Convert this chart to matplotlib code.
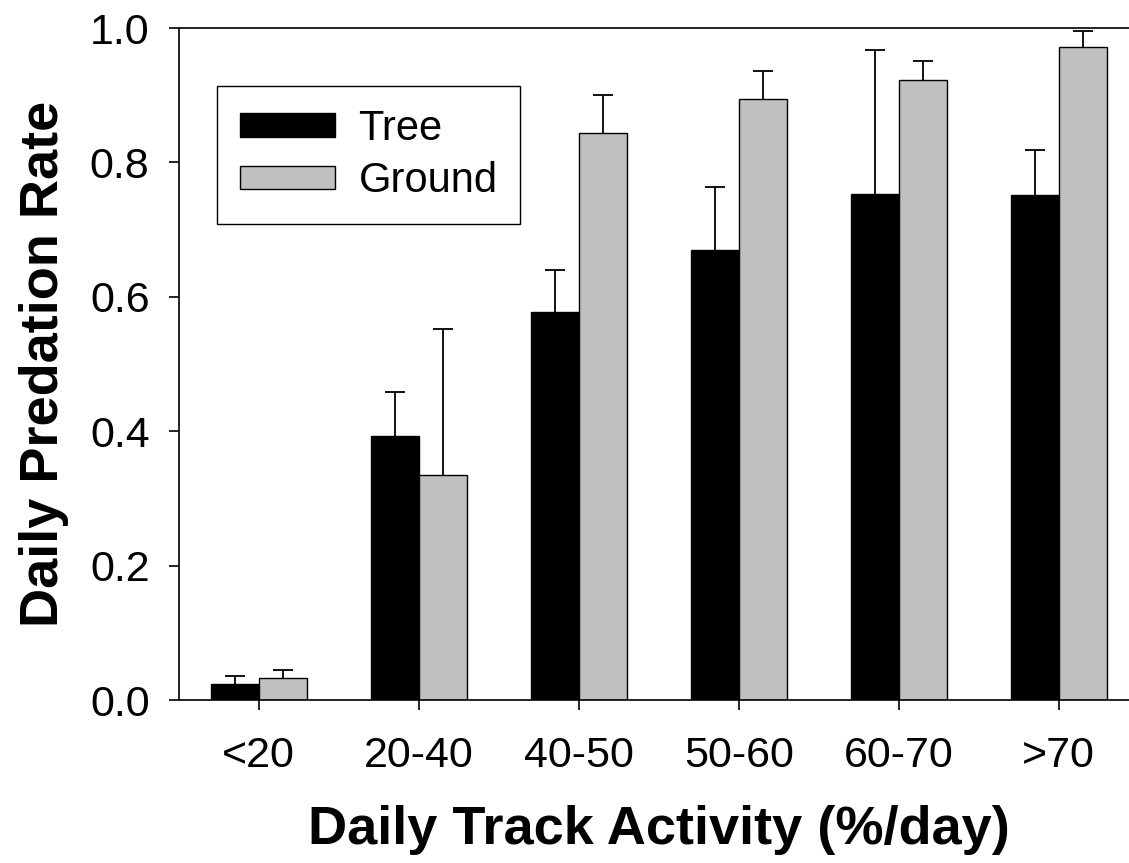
import numpy as np
import matplotlib
matplotlib.use("Agg")
import matplotlib.pyplot as plt

plt.rcParams['font.family'] = ['Liberation Sans', 'DejaVu Sans']

# values
categories = ['<20', '20-40', '40-50', '50-60', '60-70', '>70']
tree = [0.024, 0.393, 0.577, 0.670, 0.753, 0.751]
tree_err = [0.011, 0.065, 0.063, 0.093, 0.215, 0.068]
ground = [0.033, 0.335, 0.844, 0.894, 0.922, 0.972]
ground_err = [0.012, 0.217, 0.057, 0.042, 0.029, 0.024]
yticks = [0.0, 0.2, 0.4, 0.6, 0.8, 1.0]

fig = plt.figure(figsize=(11.29, 8.63), dpi=100)
# axes runs slightly off the right edge, like the cropped original
ax = fig.add_axes([178.7 / 1129, 163 / 863, 960 / 1129, 672 / 863])

x = np.arange(len(categories))
w = 0.3
zeros = np.zeros(len(categories))

ax.bar(x - w / 2, tree, w, color='black', edgecolor='black', linewidth=1,
       label='Tree', zorder=2)
ax.bar(x + w / 2, ground, w, color='#c0c0c0', edgecolor='black', linewidth=1,
       label='Ground', zorder=2)
for xs, vals, errs in [(x - w / 2, tree, tree_err), (x + w / 2, ground, ground_err)]:
    eb = ax.errorbar(xs, vals, yerr=[zeros, errs], fmt='none', ecolor='black',
                     elinewidth=1.3, capsize=7, capthick=1.3, zorder=3)
    # only the upper cap, like the original
    eb[1][0].set_visible(False)

ax.set_xlim(-0.5, 5.5)
ax.set_ylim(0, 1.0)
ax.set_xticks(x)
ax.set_xticklabels(categories)
ax.set_yticks(yticks)
ax.set_yticklabels(['%.1f' % t for t in yticks])

for sp in ax.spines.values():
    sp.set_linewidth(1.2)

ax.tick_params(axis='both', direction='out', length=7, width=1.2, labelsize=31)
ax.tick_params(axis='y', pad=14)
ax.tick_params(axis='x', pad=19)
ax.tick_params(top=False, right=False)

ax.set_ylabel('Daily Predation Rate', fontsize=39, fontweight='bold', labelpad=15)
ax.set_xlabel('Daily Track Activity (%/day)', fontsize=39, fontweight='bold', labelpad=21)

leg = ax.legend(loc='upper left', bbox_to_anchor=(0.0396, 0.9137), borderaxespad=0,
                fontsize=30, frameon=True, fancybox=False, shadow=False,
                handlelength=2.3, handleheight=0.5, handletextpad=0.55,
                labelspacing=0.3, borderpad=0.55)
leg.get_frame().set_edgecolor('black')
leg.get_frame().set_linewidth(1.0)
leg.get_frame().set_alpha(1)

fig.savefig('out.png', dpi=100)
